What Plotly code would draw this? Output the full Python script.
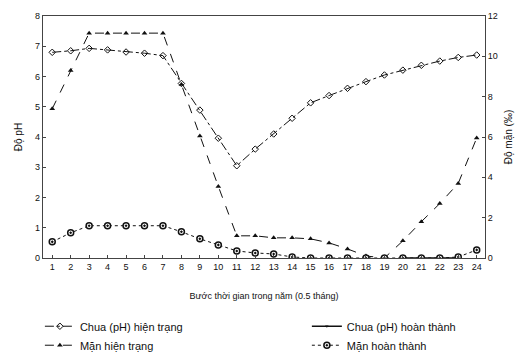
import plotly.graph_objects as go

steps = list(range(1, 25))

# pH (left axis)
ph_hien_trang = [6.8, 6.85, 6.93, 6.88, 6.81, 6.77, 6.69, 5.77, 4.89, 3.96, 3.05, 3.6,
                 4.1, 4.62, 5.13, 5.37, 5.61, 5.83, 6.05, 6.21, 6.37, 6.51, 6.63, 6.71]
# pH completed (only visible as thin line near zero at the end)
ph_hoan_thanh = [None] * 18 + [None, 0.0, 0.0, 0.0, 0.0, None]

# salinity (right axis, permille)
man_hien_trang = [7.4, 9.3, 11.15, 11.15, 11.15, 11.15, 11.15, 8.6, 6.05, 3.55, 1.1, 1.1,
                  1.0, 1.0, 0.95, 0.75, 0.45, 0.1, 0.0, 0.85, 1.8, 2.7, 3.7, 5.95]
man_hoan_thanh = [0.8, 1.25, 1.6, 1.6, 1.6, 1.6, 1.6, 1.3, 0.95, 0.65, 0.35, 0.25,
                  0.2, 0.05, 0.0, 0.0, 0.0, 0.0, 0.0, 0.0, 0.0, 0.0, 0.05, 0.4]

left_ticks = list(range(0, 9))
right_ticks = list(range(0, 13, 2))

names = ["Chua (pH) hiện trạng", "Chua (pH) hoàn thành", "Mặn hiện trạng", "Mặn hoàn thành"]

ink = "#111111"
FONT = "Liberation Sans, Arial, sans-serif"

fig = go.Figure()
fig.add_trace(go.Scatter(
    x=steps, y=ph_hien_trang, name=names[0], mode="lines+markers",
    line=dict(color=ink, width=1, dash="dashdot"),
    marker=dict(symbol="diamond-open", size=5, color=ink, line=dict(width=1, color=ink)),
    yaxis="y", legend="legend"))
fig.add_trace(go.Scatter(
    x=steps, y=ph_hoan_thanh, name=names[1], mode="lines+markers",
    line=dict(color=ink, width=1.5),
    marker=dict(symbol="triangle-down", size=3, color=ink),
    yaxis="y", legend="legend2"))
fig.add_trace(go.Scatter(
    x=steps, y=man_hien_trang, name=names[2], mode="lines+markers",
    line=dict(color=ink, width=1, dash="dash"),
    marker=dict(symbol="triangle-up", size=5, color=ink),
    yaxis="y2", legend="legend"))
fig.add_trace(go.Scatter(
    x=steps, y=man_hoan_thanh, name=names[3], mode="lines+markers",
    line=dict(color=ink, width=1, dash="dot"),
    marker=dict(symbol="circle-dot", size=6, color="white", line=dict(width=1.5, color=ink)),
    yaxis="y2", legend="legend2"))

leg_common = dict(orientation="v", yanchor="top", xanchor="left",
                  font=dict(size=11, color=ink), tracegroupgap=0, itemwidth=30,
                  bgcolor="rgba(0,0,0,0)")

fig.update_layout(
    width=528, height=355,
    margin=dict(l=43, r=43, t=16, b=97, autoexpand=False),
    paper_bgcolor="white", plot_bgcolor="white",
    font=dict(family=FONT, size=9, color=ink),
    showlegend=True,
    legend=dict(x=-0.007, y=-0.222, **leg_common),
    legend2=dict(x=0.597, y=-0.222, **leg_common),
    xaxis=dict(range=[0.5, 24.45], tickmode="array", tickvals=steps,
               ticktext=[str(s) for s in steps],
               showgrid=False, zeroline=False, showline=True, linecolor="#444",
               linewidth=1, mirror=True, ticks="inside", ticklen=3, tickcolor="#444",
               tickfont=dict(size=9, color=ink),
               title=dict(text="Bước thời gian trong năm (0.5 tháng)",
                          font=dict(size=9, color=ink), standoff=21)),
    yaxis=dict(range=[0, 8], tickvals=left_ticks, showgrid=False, zeroline=False,
               showline=True, linecolor="#444", linewidth=1.2, mirror=False,
               ticks="inside", ticklen=3, tickcolor="#444",
               tickfont=dict(size=9, color=ink),
               title=dict(text="Độ pH", font=dict(size=10, color=ink), standoff=10)),
    yaxis2=dict(range=[0, 12], tickvals=right_ticks, overlaying="y", side="right",
                showgrid=False, zeroline=False, showline=True, linecolor="#444",
                linewidth=1, ticks="inside", ticklen=3, tickcolor="#444",
                tickfont=dict(size=9, color=ink),
                title=dict(text="Độ mặn (‰)", font=dict(size=10, color=ink), standoff=8)),
)

fig.write_html("out.html", config={"displayModeBar": False},
               post_script="document.body.style.margin='0';document.body.style.overflow='hidden';")
